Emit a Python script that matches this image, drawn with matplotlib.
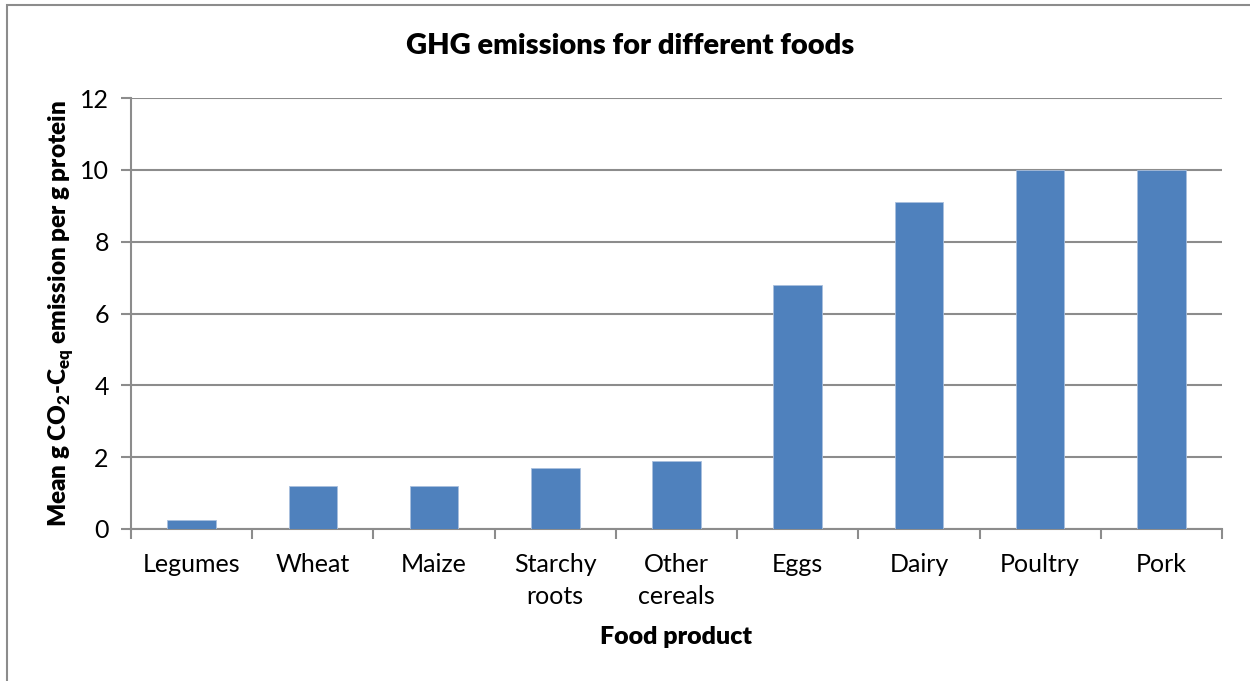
import matplotlib
matplotlib.use("Agg")
import matplotlib.pyplot as plt
from matplotlib.patches import Rectangle
import numpy as np

categories = ["Legumes", "Wheat", "Maize", "Starchy\nroots", "Other\ncereals",
              "Eggs", "Dairy", "Poultry", "Pork"]
values = [0.25, 1.2, 1.2, 1.7, 1.9, 6.8, 9.1, 10.0, 10.0]
yticks = [0, 2, 4, 6, 8, 10, 12]

plt.rcParams['font.family'] = ['Lato', 'DejaVu Sans']
plt.rcParams['mathtext.fontset'] = 'custom'
plt.rcParams['mathtext.rm'] = 'Lato'
plt.rcParams['mathtext.bf'] = 'Lato:heavy'

fig = plt.figure(figsize=(12.5, 6.81), dpi=100)
W, H = 1250, 681
ax = fig.add_axes([131 / W, 1 - 529 / H, (1222 - 131) / W, (529 - 98) / H])

grey = "#8c8c8c"
x = np.arange(len(categories))
ax.bar(x, values, width=0.4, color="#4F81BD", edgecolor="#a9bfdd", linewidth=0.6, zorder=3)

ax.set_xlim(-0.5, len(categories) - 0.5)
ax.set_ylim(0, 12)
ax.set_yticks(yticks)
ax.set_yticklabels([str(t) for t in yticks])
ax.yaxis.grid(True, color=grey, linewidth=1.5, zorder=0)
ax.set_axisbelow(True)

ax.set_xticks(x)
ax.set_xticklabels(categories, linespacing=1.5)
ax.set_xticks(np.arange(len(categories) + 1) - 0.5, minor=True)
ax.tick_params(axis='x', which='major', length=0, pad=17, labelsize=18)
ax.tick_params(axis='x', which='minor', length=7, width=1.5, color=grey, direction='out')
ax.tick_params(axis='y', length=7, width=1.5, color=grey, direction='out', pad=9, labelsize=18)

for s in ['top', 'right']:
    ax.spines[s].set_visible(False)
for s in ['left', 'bottom']:
    ax.spines[s].set_color(grey)
    ax.spines[s].set_linewidth(1.5)

ax.set_xlabel("Food product", fontsize=18, fontweight='heavy', labelpad=13)
ax.set_ylabel(r"Mean g CO$_\mathbf{2}$-C$_\mathbf{eq}$ emission per g protein",
              fontsize=17.5, fontweight='heavy', labelpad=3)
fig.text(630 / W, 1 - 46 / H, "GHG emissions for different foods", fontsize=21,
         fontweight='heavy', ha='center', va='center')

fig.patches.append(Rectangle((6.5 / W, -0.05), 1.2, 1 - 5.5 / H + 0.05,
                             transform=fig.transFigure, fill=False,
                             edgecolor=grey, linewidth=1.5))

fig.savefig("out.png", dpi=100)
